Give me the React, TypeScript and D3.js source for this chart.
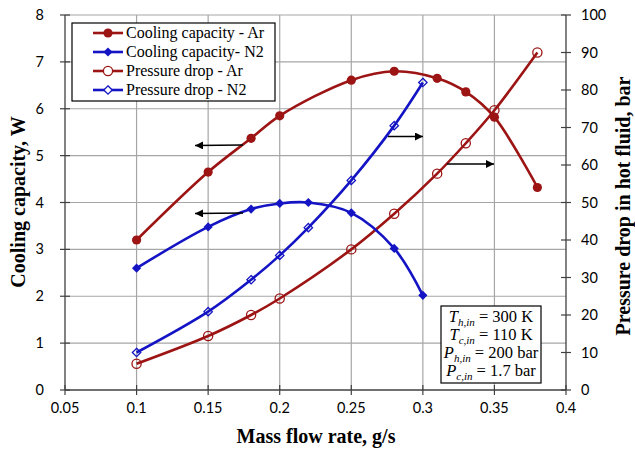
import React from "react";
import * as d3 from "d3";

const xTicks = [0.05, 0.1, 0.15, 0.2, 0.25, 0.3, 0.35, 0.4];
const yLeftTicks = [0, 1, 2, 3, 4, 5, 6, 7, 8];
const yRightTicks = [0, 10, 20, 30, 40, 50, 60, 70, 80, 90, 100];

const coolArX = [0.1, 0.15, 0.18, 0.2, 0.25, 0.28, 0.31, 0.33, 0.35, 0.38];
const coolArY = [3.2, 4.65, 5.37, 5.85, 6.61, 6.8, 6.65, 6.36, 5.82, 4.32];
const coolN2X = [0.1, 0.15, 0.18, 0.2, 0.22, 0.25, 0.28, 0.3];
const coolN2Y = [2.6, 3.48, 3.86, 3.98, 4.0, 3.78, 3.02, 2.02];
const presArX = [0.1, 0.15, 0.18, 0.2, 0.25, 0.28, 0.31, 0.33, 0.35, 0.38];
const presArY = [7, 14.4, 20, 24.4, 37.5, 47, 57.7, 65.8, 74.6, 90];
const presN2X = [0.1, 0.15, 0.18, 0.2, 0.22, 0.25, 0.28, 0.3];
const presN2Y = [10, 20.9, 29.4, 35.9, 43.3, 55.9, 70.5, 82];

const legendLabels = [
  "Cooling capacity - Ar",
  "Cooling capacity- N2",
  "Pressure drop - Ar",
  "Pressure drop - N2",
];

const RED = "#9C1414";
const BLUE = "#1414C4";

type Pt = [number, number];
const zip = (xs: number[], ys: number[]): Pt[] => xs.map((x, i) => [x, ys[i]]);

export default function App() {
  const x = d3.scaleLinear().domain([0.05, 0.4]).range([65, 566]);
  const yL = d3.scaleLinear().domain([0, 8]).range([390, 15]);
  const yR = d3.scaleLinear().domain([0, 100]).range([390, 15]);
  const left = x(0.05);
  const right = x(0.4);
  const top = yL(8);
  const bottom = yL(0);

  const lineL = d3
    .line<Pt>()
    .x((d) => x(d[0]))
    .y((d) => yL(d[1]))
    .curve(d3.curveCatmullRom.alpha(0.5));
  const lineR = d3
    .line<Pt>()
    .x((d) => x(d[0]))
    .y((d) => yR(d[1]))
    .curve(d3.curveCatmullRom.alpha(0.5));

  const coolAr = zip(coolArX, coolArY);
  const coolN2 = zip(coolN2X, coolN2Y);
  const presAr = zip(presArX, presArY);
  const presN2 = zip(presN2X, presN2Y);

  const diamond = (cx: number, cy: number, r: number) =>
    `M${cx},${cy - r}L${cx + r},${cy}L${cx},${cy + r}L${cx - r},${cy}Z`;

  const tickFont = "Lato, 'Open Sans', sans-serif";
  const serif = "'Liberation Serif', 'Times New Roman', serif";

  const arrows = [
    { x1: 243, y1: 145, x2: 195, y2: 145.5 },
    { x1: 243, y1: 213, x2: 195, y2: 213.5 },
    { x1: 388, y1: 136.5, x2: 423, y2: 136.5 },
    { x1: 447, y1: 164, x2: 494, y2: 164 },
  ];

  const legendY = [33, 52, 71, 90];

  return (
    <svg width={635} height={450} style={{ display: "block", position: "absolute", left: 0, top: 0 }}>
      <defs>
        <marker id="ah" viewBox="0 0 10 10" refX="10" refY="5" markerWidth="10" markerHeight="8" markerUnits="userSpaceOnUse" orient="auto">
          <path d="M0,0L10,5L0,10Z" fill="#000" />
        </marker>
      </defs>
      <rect width={635} height={450} fill="#fff" />
      {/* grid */}
      {xTicks.slice(1, -1).map((t) => (
        <line key={"gx" + t} x1={x(t)} x2={x(t)} y1={top} y2={bottom} stroke="#a6a6a6" strokeWidth={1.2} />
      ))}
      {yLeftTicks.slice(1).map((t) => (
        <line key={"gy" + t} x1={left} x2={right} y1={yL(t)} y2={yL(t)} stroke="#a6a6a6" strokeWidth={1.2} />
      ))}
      {/* axes */}
      <line x1={left} x2={left} y1={top} y2={bottom} stroke="#404040" strokeWidth={1.3} />
      <line x1={right} x2={right} y1={top} y2={bottom} stroke="#404040" strokeWidth={1.3} />
      <line x1={left} x2={right} y1={bottom} y2={bottom} stroke="#404040" strokeWidth={1.3} />
      {yLeftTicks.map((t) => (
        <g key={"yl" + t}>
          <line x1={left - 5} x2={left + 5} y1={yL(t)} y2={yL(t)} stroke="#404040" strokeWidth={1.2} />
          <text x={left - 21} y={yL(t)} dy="0.35em" textAnchor="end" fontFamily={tickFont} fontSize={14.5} fill="#000">
            {t}
          </text>
        </g>
      ))}
      {yRightTicks.map((t) => (
        <g key={"yr" + t}>
          <line x1={right - 5} x2={right + 5} y1={yR(t)} y2={yR(t)} stroke="#404040" strokeWidth={1.2} />
          <text x={right + 15} y={yR(t)} dy="0.35em" textAnchor="start" fontFamily={tickFont} fontSize={14.5} fill="#000">
            {t}
          </text>
        </g>
      ))}
      {xTicks.map((t) => (
        <g key={"xt" + t}>
          <line x1={x(t)} x2={x(t)} y1={bottom - 5} y2={bottom + 5} stroke="#404040" strokeWidth={1.2} />
          <text x={x(t)} y={bottom + 18} dy="0.35em" textAnchor="middle" fontFamily={tickFont} fontSize={14.5} fill="#000">
            {t}
          </text>
        </g>
      ))}
      {/* titles */}
      <text x={316} y={443} textAnchor="middle" fontFamily={serif} fontWeight="bold" fontSize={20}>
        Mass flow rate, g/s
      </text>
      <text transform="translate(25,202) rotate(-90)" textAnchor="middle" fontFamily={serif} fontWeight="bold" fontSize={20}>
        Cooling capacity, W
      </text>
      <text transform="translate(630,206) rotate(-90)" textAnchor="middle" fontFamily={serif} fontWeight="bold" fontSize={20}>
        Pressure drop in hot fluid, bar
      </text>

      {/* series lines */}
      <path d={lineR(presAr) || ""} fill="none" stroke={RED} strokeWidth={2.6} />
      <path d={lineR(presN2) || ""} fill="none" stroke={BLUE} strokeWidth={2.6} />
      <path d={lineL(coolAr) || ""} fill="none" stroke={RED} strokeWidth={2.6} />
      <path d={lineL(coolN2) || ""} fill="none" stroke={BLUE} strokeWidth={2.6} />

      {/* markers */}
      {presAr.map((d, i) => (
        <circle key={"pa" + i} cx={x(d[0])} cy={yR(d[1])} r={4.6} fill="none" stroke={RED} strokeWidth={1.3} />
      ))}
      {presN2.map((d, i) => (
        <path key={"pn" + i} d={diamond(x(d[0]), yR(d[1]), 4.2)} fill="none" stroke={BLUE} strokeWidth={1.3} />
      ))}
      {coolAr.map((d, i) => (
        <circle key={"ca" + i} cx={x(d[0])} cy={yL(d[1])} r={4.6} fill={RED} />
      ))}
      {coolN2.map((d, i) => (
        <path key={"cn" + i} d={diamond(x(d[0]), yL(d[1]), 4.6)} fill={BLUE} />
      ))}

      {/* arrows */}
      {arrows.map((a, i) => (
        <line key={"ar" + i} x1={a.x1} y1={a.y1} x2={a.x2} y2={a.y2} stroke="#000" strokeWidth={1.3} markerEnd="url(#ah)" />
      ))}

      {/* legend */}
      <rect x={72} y={23} width={203} height={78} fill="#fff" stroke="#000" strokeWidth={1.2} />
      {legendLabels.map((lab, i) => {
        const ly = legendY[i];
        const col = i % 2 === 0 ? RED : BLUE;
        const mx = 108;
        return (
          <g key={"lg" + i}>
            <line x1={93} x2={123} y1={ly} y2={ly} stroke={col} strokeWidth={2.6} />
            {i === 0 && <circle cx={mx} cy={ly} r={4.6} fill={RED} />}
            {i === 1 && <path d={diamond(mx, ly, 4.6)} fill={BLUE} />}
            {i === 2 && <circle cx={mx} cy={ly} r={4.6} fill="#fff" stroke={RED} strokeWidth={1.3} />}
            {i === 3 && <path d={diamond(mx, ly, 4.2)} fill="#fff" stroke={BLUE} strokeWidth={1.3} />}
            <text x={126} y={ly} dy="0.33em" fontFamily={serif} fontSize={16} fill="#000">
              {lab}
            </text>
          </g>
        );
      })}

      {/* conditions box */}
      <rect x={441} y={306} width={100} height={77} fill="#fff" stroke="#000" strokeWidth={1.2} />
      {[
        ["T", "h,in", "= 300 K"],
        ["T", "c,in", "= 110 K"],
        ["P", "h,in", "= 200 bar"],
        ["P", "c,in", "= 1.7 bar"],
      ].map((r, i) => (
        <text key={"cb" + i} x={491} y={322 + i * 18} textAnchor="middle" fontFamily={serif} fontSize={16.5} fill="#000">
          <tspan fontStyle="italic">{r[0]}</tspan>
          <tspan fontStyle="italic" fontSize={11} dy={4}>{r[1]}</tspan>
          <tspan dy={-4}>{" " + r[2]}</tspan>
        </text>
      ))}
    </svg>
  );
}
